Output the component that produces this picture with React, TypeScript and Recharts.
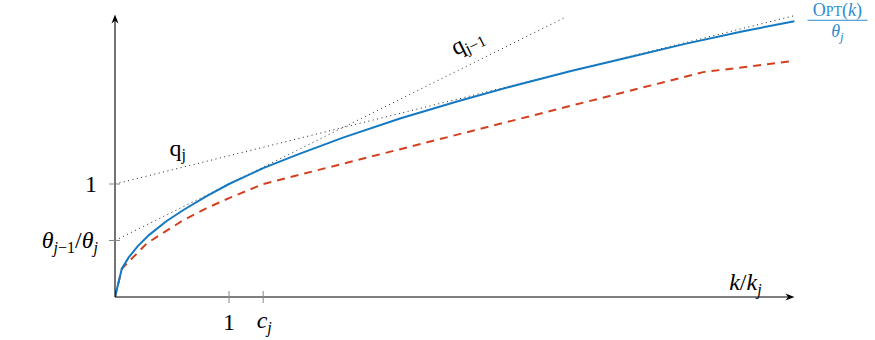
import React from "react";
import { ComposedChart, Line, XAxis, YAxis, ReferenceLine, ReferenceDot } from "recharts";

// k / k_j positions and values
const optX = [0, 0.06, 0.12, 0.2, 0.3, 0.45, 0.6, 0.8, 1, 1.3, 1.6, 2, 2.5, 3, 3.5, 4, 4.5, 5, 5.5, 5.96];
const optY = [0, 0.25, 0.35, 0.45, 0.55, 0.67, 0.77, 0.89, 1, 1.14, 1.26, 1.41, 1.58, 1.73, 1.87, 2, 2.12, 2.24, 2.35, 2.44];

const algX = [0, 0.06, 0.28, 0.45, 0.6, 0.8, 1, 1.3, 5.16, 5.96];
const algY = [0, 0.25, 0.475, 0.585, 0.68, 0.785, 0.875, 1, 1.99, 2.09];

const qjX = [0, 5.96];
const qjY = [1, 2.49];
const qjPrevX = [0, 3.96];
const qjPrevY = [0.5, 2.48];

const xTicks = [1, 1.3];
const yTicks = [0.5, 1];

const toPoints = (xs: number[], ys: number[]) => xs.map((x, i) => ({ x, y: ys[i] }));

const optData = toPoints(optX, optY);
const algData = toPoints(algX, algY);
const qjData = toPoints(qjX, qjY);
const qjPrevData = toPoints(qjPrevX, qjPrevY);

const FONT = "Liberation Serif, DejaVu Serif, serif";
const BLUE = "#1479c2";
const RED = "#d4401e";
const txt = { fontFamily: FONT };

const Arrow = (props: any) => {
  const { x1, y1, x2, y2 } = props;
  const a = Math.atan2(y2 - y1, x2 - x1);
  const len = 9;
  const w = 3.5;
  const bx = x2 - len * Math.cos(a);
  const by = y2 - len * Math.sin(a);
  const nx = -Math.sin(a);
  const ny = Math.cos(a);
  const mx = x2 - len * 0.7 * Math.cos(a);
  const my = y2 - len * 0.7 * Math.sin(a);
  return (
    <g>
      <line x1={x1} y1={y1} x2={mx} y2={my} stroke="#000" strokeWidth={1.1} />
      <path
        d={`M${x2},${y2} L${bx + nx * w},${by + ny * w} L${mx},${my} L${bx - nx * w},${by - ny * w} Z`}
        fill="#000"
      />
    </g>
  );
};

const XTick = (props: any) => {
  const { x, y, payload } = props;
  return (
    <g>
      <line x1={x} y1={y - 6} x2={x} y2={y + 6} stroke="#888" strokeWidth={1} />
      {payload.value === 1 ? (
        <text x={x} y={y + 33} textAnchor="middle" style={txt} fontSize={24} fill="#000">
          1
        </text>
      ) : (
        <text x={x + 1} y={y + 31} textAnchor="middle" style={txt} fontSize={24} fill="#000">
          <tspan fontStyle="italic">c</tspan>
          <tspan fontStyle="italic" fontSize={16} dy={5}>j</tspan>
        </text>
      )}
    </g>
  );
};

const YTick = (props: any) => {
  const { x, y, payload } = props;
  return (
    <g>
      <line x1={x - 6} y1={y} x2={x + 5} y2={y} stroke="#888" strokeWidth={1} />
      {payload.value === 1 ? (
        <text x={x - 18} y={y + 8} textAnchor="end" style={txt} fontSize={24} fill="#000">
          1
        </text>
      ) : (
        <text x={x - 17} y={y + 7} textAnchor="end" style={txt} fontSize={24} fill="#000">
          <tspan fontStyle="italic">θ</tspan>
          <tspan fontStyle="italic" fontSize={16} dy={5}>j</tspan>
          <tspan fontSize={16}>−1</tspan>
          <tspan dy={-5}>/</tspan>
          <tspan fontStyle="italic">θ</tspan>
          <tspan fontStyle="italic" fontSize={16} dy={5}>j</tspan>
        </text>
      )}
    </g>
  );
};

const QjLabel = (props: any) => (
  <text x={props.cx} y={props.cy} textAnchor="middle" style={txt} fontSize={24} fill="#000">
    q<tspan fontSize={16} dy={4}>j</tspan>
  </text>
);

const QjPrevLabel = (props: any) => (
  <text
    x={props.cx}
    y={props.cy}
    textAnchor="middle"
    style={txt}
    fontSize={24}
    fill="#000"
    transform={`rotate(-26.4 ${props.cx} ${props.cy})`}
  >
    q<tspan fontSize={16} dy={4}>j−1</tspan>
  </text>
);

const OptLabel = (props: any) => {
  const { cx, cy } = props;
  const left = cx + 13;
  const mid = left + 30;
  return (
    <g fill="#2e8ccf" style={txt}>
      <text x={mid} y={cy - 5} textAnchor="middle" fontSize={18}>
        O<tspan fontSize={14}>PT</tspan>(<tspan fontStyle="italic">k</tspan>)
      </text>
      <line x1={left} y1={cy - 1} x2={left + 60} y2={cy - 1} stroke="#2e8ccf" strokeWidth={1} />
      <text x={mid} y={cy + 16} textAnchor="middle" fontSize={18}>
        <tspan fontStyle="italic">θ</tspan>
        <tspan fontStyle="italic" fontSize={13} dy={4}>j</tspan>
      </text>
    </g>
  );
};

const AxisName = (props: any) => (
  <text x={props.cx} y={props.cy} textAnchor="middle" style={txt} fontSize={24} fill="#000">
    <tspan fontStyle="italic">k</tspan>/<tspan fontStyle="italic">k</tspan>
    <tspan fontStyle="italic" fontSize={16} dy={5}>j</tspan>
  </text>
);

const App = () => {
  return (
    <div style={{ position: "absolute", left: 0, top: 0, background: "#fff" }}>
      <ComposedChart width={875} height={340} margin={{ top: 14.5, right: 76, bottom: 13, left: 15 }}>
        <XAxis
          type="number"
          dataKey="x"
          domain={[0, 6]}
          ticks={xTicks}
          axisLine={false}
          tickLine={false}
          tickSize={0}
          tickMargin={0}
          height={30}
          tick={<XTick />}
          allowDataOverflow
        />
        <YAxis
          type="number"
          dataKey="y"
          domain={[0, 2.5]}
          ticks={yTicks}
          axisLine={false}
          tickLine={false}
          tickSize={0}
          tickMargin={0}
          width={100}
          tick={<YTick />}
          allowDataOverflow
        />
        <Line
          data={qjData}
          dataKey="y"
          type="linear"
          stroke="#222"
          strokeWidth={1}
          strokeDasharray="1 3.5"
          dot={false}
          isAnimationActive={false}
        />
        <Line
          data={qjPrevData}
          dataKey="y"
          type="linear"
          stroke="#222"
          strokeWidth={1}
          strokeDasharray="1 3.5"
          dot={false}
          isAnimationActive={false}
        />
        <Line
          data={algData}
          dataKey="y"
          type="linear"
          stroke={RED}
          strokeWidth={2}
          strokeDasharray="8 6"
          dot={false}
          isAnimationActive={false}
        />
        <Line
          data={optData}
          dataKey="y"
          type="linear"
          stroke={BLUE}
          strokeWidth={2}
          dot={false}
          isAnimationActive={false}
        />
        <ReferenceLine segment={[{ x: 0, y: 0 }, { x: 5.96, y: 0 }]} shape={Arrow} />
        <ReferenceLine segment={[{ x: 0, y: 0 }, { x: 0, y: 2.5 }]} shape={Arrow} />
        <ReferenceDot x={0.55} y={1.25} r={0} shape={QjLabel} />
        <ReferenceDot x={3.12} y={2.2} r={0} shape={QjPrevLabel} />
        <ReferenceDot x={5.96} y={2.44} r={0} shape={OptLabel} />
        <ReferenceDot x={5.53} y={0.06} r={0} shape={AxisName} />
      </ComposedChart>
    </div>
  );
};

export default App;
